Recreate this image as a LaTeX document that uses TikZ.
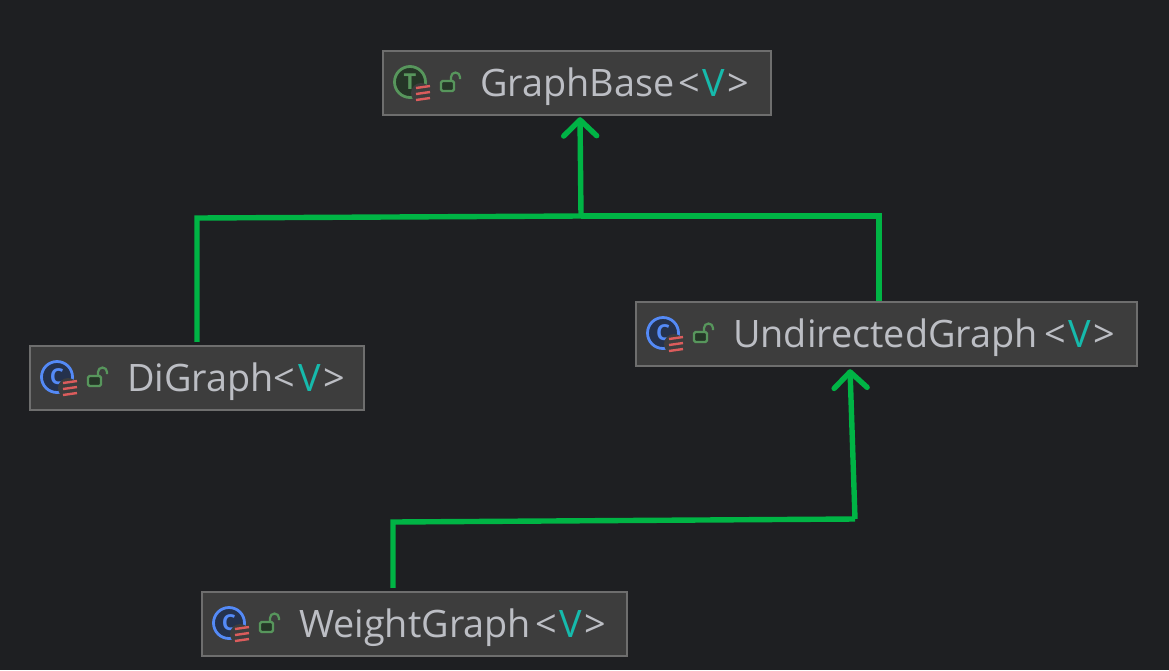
\documentclass[tikz,border=0pt]{standalone}
\usepackage{fontspec}
\setmainfont{Open Sans}
\usetikzlibrary{arrows.meta,calc}
\definecolor{bg}{HTML}{1E1F22}
\definecolor{boxfill}{HTML}{3D3D3D}
\definecolor{boxline}{HTML}{6E6E6E}
\definecolor{edge}{HTML}{00B445}
\definecolor{txt}{HTML}{BCBEC4}
\definecolor{tparam}{HTML}{16BAAC}
\definecolor{grn}{HTML}{57965C}
\definecolor{grnfill}{HTML}{253627}
\definecolor{blu}{HTML}{548AF7}
\definecolor{blufill}{HTML}{25324D}
\definecolor{redm}{HTML}{DB5C5C}
\newcommand{\tp}[1]{\kern#1pt\textless\kern2.5pt\textcolor{tparam}{V}\kern2.5pt\textgreater}
\tikzset{
  x=1pt,y=-1pt,
  classbox/.style={draw=boxline,fill=boxfill,line width=2.4pt,minimum height=64pt,inner sep=0pt},
  classlabel/.style={anchor=base west,inner sep=0pt,text=txt,font=\fontsize{37.8}{42}\selectfont},
  iconletter/.style={inner sep=0pt,font=\bfseries\fontsize{22}{22}\selectfont},
  conn/.style={draw=edge,line width=5.4pt,line join=miter},
  head/.style={-{Straight Barb[length=16pt,width=33pt,line cap=round,line join=round]}},
  pics/classicon/.style n args={3}{code={
    \fill[#2] (0,0) circle (15.5);
    \draw[#1,line width=2.8pt] (0,0) circle (15.5);
    \node[iconletter,text=#1] at (0,0) {#3};
    \fill[boxfill] (11,11) circle (10);
    \foreach \yy in {5,11,17}{\draw[redm,line width=2.4pt] (6,\yy+1) -- (20,\yy-1);}
    \fill[grnfill,rounded corners=1.5pt] (31,-1) rectangle ++(13,10);
    \draw[grn,line width=2.2pt,rounded corners=1.5pt] (31,-1) rectangle ++(13,10);
    \draw[grn,line width=2.2pt] (41,-1) -- (41,-5) arc[start angle=180,end angle=360,radius=4.5] -- (50,-3);
  }}
}
\begin{document}
\begin{tikzpicture}
\useasboundingbox (0,0) rectangle (1169,670);
\fill[bg] (0,0) rectangle (1169,670);

\node[classbox,minimum width=388pt] (base) at (577,83) {};
\node[classbox,minimum width=334pt] (di) at (197,378) {};
\node[classbox,minimum width=501pt] (und) at (886.5,334) {};
\node[classbox,minimum width=425pt] (wei) at (414.5,624) {};

\node[classlabel] (baset) at (480,96) {GraphBase\tp{4}};
\node[classlabel] (dit) at (127,391) {DiGraph\tp{0}};
\node[classlabel] (undt) at (733,347) {UndirectedGraph\tp{7}};
\node[classlabel] (weit) at (299,637) {WeightGraph\tp{4}};

\pic at (410,82) {classicon={grn}{grnfill}{T}};
\pic at (57,377) {classicon={blu}{blufill}{C}};
\pic at (663,333) {classicon={blu}{blufill}{C}};
\pic at (229,623) {classicon={blu}{blufill}{C}};

\coordinate (junction) at (581,216);
\coordinate (weibend) at (393,522);
\coordinate (undbend) at (855,519);

\draw[conn] ([yshift=3pt]di.north) |- (197,218) -- (junction);
\draw[conn] ([xshift=-7.5pt]und.north) -- (879,216) -- (junction);
\draw[conn,head] (junction) -- ([xshift=3pt,yshift=-1pt]base.south);
\draw[conn] ([xshift=-21.5pt,yshift=3pt]wei.north) -- (weibend) -- (undbend);
\draw[conn,head] (undbend) -- ([xshift=-36.5pt,yshift=-2pt]und.south);
\end{tikzpicture}
\end{document}
